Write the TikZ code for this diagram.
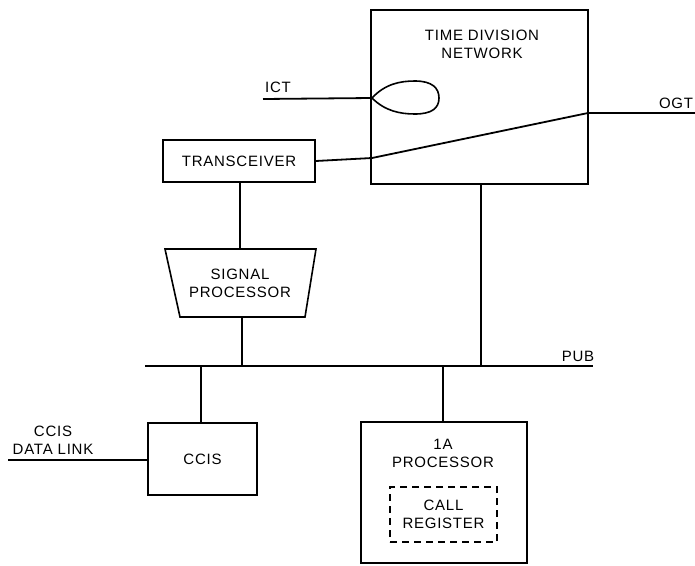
\documentclass[tikz,border=0pt]{standalone}
\usepackage{fontspec}
\setmainfont{Liberation Sans}[LetterSpace=5]
\begin{document}
\begin{tikzpicture}[x=1pt,y=-1pt,line width=1.6pt,
  box/.style={draw,line width=1.6pt,inner sep=0pt},
  lbl/.style={align=center,font=\fontsize{15}{18}\selectfont,inner sep=0pt},
  wire/.style={line width=1.8pt}]
\useasboundingbox (0,0) rectangle (695,565);
% Time division network
\node[box,minimum width=217pt,minimum height=174pt] (tdn) at (479.5,97) {};
\node[lbl] (tdnlbl) at (482,44) {TIME DIVISION\\NETWORK};
% Transceiver
\node[box,minimum width=152pt,minimum height=42pt,lbl,draw] (tr) at (239,161) {TRANSCEIVER};
% Signal processor (trapezoid)
\coordinate (sptl) at (165,249);
\coordinate (sptr) at (316,249);
\coordinate (spbr) at (305,317);
\coordinate (spbl) at (180,317);
\draw[line width=1.6pt] (sptl) -- (sptr) -- (spbr) -- (spbl) -- cycle;
\node[lbl] (sp) at (240,283) {SIGNAL\\PROCESSOR};
\coordinate (sptop) at (240,249);
\coordinate (spbot) at (242,317);
% Bus
\coordinate (busL) at (145,366);
\coordinate (busR) at (593,366);
\draw[wire] (busL) -- (busR);
\node[lbl,anchor=south] (pub) at (578,362) {PUB};
% CCIS
\node[box,minimum width=109pt,minimum height=72pt,lbl,draw] (ccis) at (202.5,459) {CCIS};
\node[lbl] (ccislbl) at (53,440) {CCIS\\DATA LINK};
\coordinate (dlEnd) at (8,460);
% 1A processor
\node[box,minimum width=166pt,minimum height=141pt] (pa) at (444,492.5) {};
\node[lbl] (palbl) at (443,453) {1A\\PROCESSOR};
\node[box,dashed,dash pattern=on 7pt off 5pt,minimum width=107pt,minimum height=55pt,lbl,draw] (cr) at (443.5,514.5) {CALL\\REGISTER};
% ICT and OGT
\coordinate (ictEnd) at (263,99);
\coordinate (ictIn) at (372,98);
\node[lbl,anchor=south] (ict) at (278,93) {ICT};
\coordinate (ogtIn) at (372,158);
\coordinate (ogtOut) at (588,113);
\coordinate (ogtEnd) at (695,113);
\node[lbl,anchor=south] (ogt) at (676,109) {OGT};
% connectors
\draw[wire] (ictEnd) -- (ictIn);
\draw[line width=1.6pt] (ictIn) .. controls (385,84) and (400,81) .. (415,81)
  .. controls (432,81) and (439,88) .. (439,98)
  .. controls (439,108) and (432,114) .. (415,114)
  .. controls (400,114) and (385,111) .. (ictIn);
\draw[wire] (tr.east) -- (ogtIn) -- (ogtOut) -- (ogtEnd);
\draw[wire] (tr.south -| sptop) -- (sptop);
\draw[wire] (spbot) -- (spbot |- busL);
\draw[wire] (tdn.south -| 481,0) -- (481,366);
\draw[wire] (ccis.north -| 201,0) -- (201,366);
\draw[wire] (pa.north -| 443,0) -- (443,366);
\draw[wire] (dlEnd) -- (ccis.west |- dlEnd);
\end{tikzpicture}
\end{document}
